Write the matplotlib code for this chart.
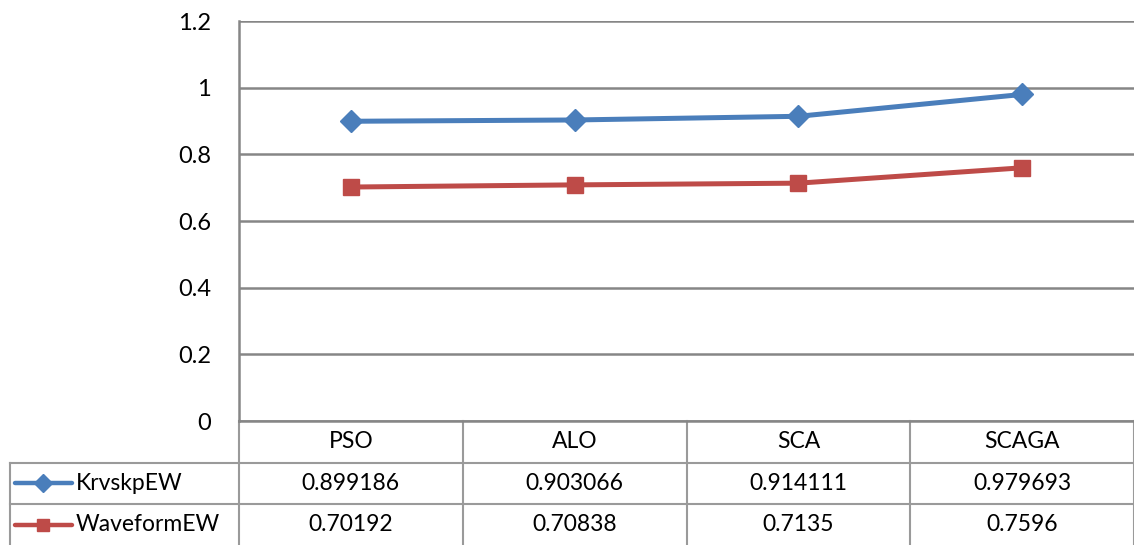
import numpy as np
import matplotlib
matplotlib.use('Agg')
import matplotlib.pyplot as plt
from matplotlib.ticker import FuncFormatter
import matplotlib.transforms as mtrans

categories = ['PSO', 'ALO', 'SCA', 'SCAGA']
series_names = ['KrvskpEW', 'WaveformEW']
krvskp = [0.899186, 0.903066, 0.914111, 0.979693]
waveform = [0.70192, 0.70838, 0.7135, 0.7596]
table_text = [['0.899186', '0.903066', '0.914111', '0.979693'],
              ['0.70192', '0.70838', '0.7135', '0.7596']]

plt.rcParams['font.family'] = ['Lato', 'DejaVu Sans']
W, H = 1134, 545
fig = plt.figure(figsize=(W / 100, H / 100), dpi=100)
# plot area in pixels: left 239, top 21, right 1134, bottom 421
ax = fig.add_axes([239 / W, (H - 421) / H, (W - 239) / W, 400 / H])

grey = '#868686'
blue = '#4A7EBB'
red = '#BE4B48'
fs = 16.5

x = np.arange(len(categories))
ax.plot(x, krvskp, color=blue, lw=3.6, marker='D', ms=11, zorder=3, solid_capstyle='round')
ax.plot(x, waveform, color=red, lw=3.6, marker='s', ms=11, zorder=3, solid_capstyle='round')

ax.set_xlim(-0.5, len(categories) - 0.5)
ax.set_ylim(0, 1.2)
ax.set_yticks(np.arange(0, 1.21, 0.2))
ax.yaxis.set_major_formatter(FuncFormatter(lambda v, p: '%g' % round(v, 1)))
ax.tick_params(axis='y', length=0, pad=20, labelsize=fs + 0.5)
ax.set_xticks([])
ax.grid(axis='y', color=grey, lw=1.8)
ax.set_axisbelow(True)
for s in ['top', 'right']:
    ax.spines[s].set_visible(False)
for s in ['left', 'bottom']:
    ax.spines[s].set_color(grey)
    ax.spines[s].set_linewidth(1.8)

# data table below the plot
trans = mtrans.blended_transform_factory(ax.transData, ax.transAxes)
row_h = 41.5 / 400
y_rows = [0, -row_h, -2 * row_h, -3 * row_h]
left = (10 - 239) / (W - 239)
tc = '#9A9A9A'
lw_t = 1.5
for yy in y_rows[1:3]:
    ax.plot([left, 1], [yy, yy], transform=ax.transAxes, color=tc, lw=lw_t, clip_on=False)
for xv in np.arange(len(categories) + 1) - 0.5:
    ax.plot([xv, xv], [0, y_rows[3]], transform=trans, color=tc, lw=lw_t, clip_on=False)
ax.plot([left, left], [y_rows[1], y_rows[3]], transform=ax.transAxes, color=tc, lw=lw_t, clip_on=False)

for i, c in enumerate(categories):
    ax.text(i, (y_rows[0] + y_rows[1]) / 2, c, transform=trans, ha='center', va='center', fontsize=fs)
    for r in range(2):
        ax.text(i, (y_rows[r + 1] + y_rows[r + 2]) / 2, table_text[r][i], transform=trans,
                ha='center', va='center', fontsize=fs)

# legend keys in the table
key_x0, key_x1, key_xm = (15 - 239) / 895, (72 - 239) / 895, (43 - 239) / 895
for r, (name, col, mk) in enumerate(zip(series_names, [blue, red], ['D', 's'])):
    ym = (y_rows[r + 1] + y_rows[r + 2]) / 2
    ax.plot([key_x0, key_x1], [ym, ym], transform=ax.transAxes, color=col, lw=3.2,
            clip_on=False, solid_capstyle='round')
    ax.plot([key_xm], [ym], transform=ax.transAxes, color=col, marker=mk, ms=9, clip_on=False)
    ax.text((76 - 239) / 895, ym, name, transform=ax.transAxes, ha='left', va='center', fontsize=fs)

fig.savefig('out.png', dpi=100)
